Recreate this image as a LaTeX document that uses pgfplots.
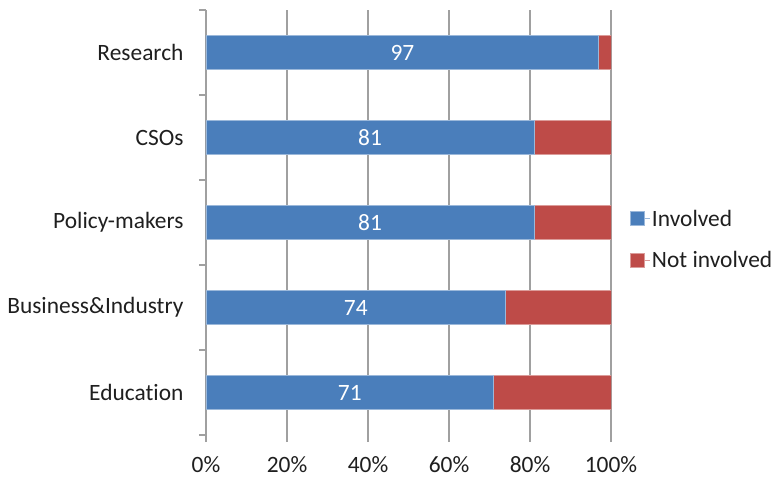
\documentclass[border=0pt]{standalone}
\usepackage{fontspec}
\setmainfont{Carlito}[Ligatures={NoCommon}]
\usepackage{pgfplots}
\pgfplotsset{compat=1.18}
\definecolor{barblue}{HTML}{4A7EBB}
\definecolor{barred}{HTML}{BE4B48}
\definecolor{gridgray}{HTML}{A0A0A0}
\definecolor{txt}{HTML}{1F1F1F}
\begin{document}
\begin{tikzpicture}
\useasboundingbox (-206bp,-42bp) rectangle (569bp,435bp);
\begin{axis}[
  xbar stacked,
  bar width=34bp,
  scale only axis,
  width=405bp, height=425bp,
  xmin=0, xmax=100,
  ymin=-0.5, ymax=4.5,
  xtick={0,20,...,100},
  xticklabel={\pgfmathprintnumber{\tick}\%},
  ytick={0,...,4},
  yticklabels={Education,Business\&Industry,Policy-makers,CSOs,Research},
  extra y ticks={-0.5,0.5,1.5,2.5,3.5,4.5},
  extra y tick labels={},
  extra y tick style={ytick style={draw=gridgray, line width=1.5bp}, grid=none},
  ytick style={draw=none},
  xtick style={draw=gridgray, line width=1.5bp},
  major tick length=7bp,
  tick align=outside,
  xmajorgrids,
  major grid style={gridgray, line width=1.5bp},
  axis x line*=bottom,
  axis y line*=left,
  x axis line style={draw=none},
  y axis line style={draw=gridgray, line width=1.5bp, -},
  /pgf/number format/assume math mode=true,
  tick label style={font=\fontsize{23.5}{28}\selectfont, text=txt},
  xticklabel style={yshift=-11bp},
  yticklabel style={xshift=-12bp},
  legend style={at={(1,0.5)}, anchor=west, xshift=16bp, yshift=-17bp, draw=none, fill=none,
    font=\fontsize{23.5}{28}\selectfont, text=txt, row sep=20bp},
  legend cell align=left,
  legend image code/.code={\fill[#1] (0bp,-7bp) rectangle (14bp,7bp); \path (14bp,0bp) -- (19bp,0bp);},
]
\addplot[fill=barblue, draw=barblue!55!white, line width=0.8bp,
  point meta=x,
  nodes near coords,
  every node near coord/.append style={text=white, anchor=center, font=\fontsize{23.5}{28}\selectfont}]
  coordinates {(71,0) (74,1) (81,2) (81,3) (97,4)};
\addplot[fill=barred, draw=barred!55!white, line width=0.8bp]
  coordinates {(29,0) (26,1) (19,2) (19,3) (3,4)};
\legend{Involved, Not involved}
\end{axis}
\end{tikzpicture}
\end{document}
